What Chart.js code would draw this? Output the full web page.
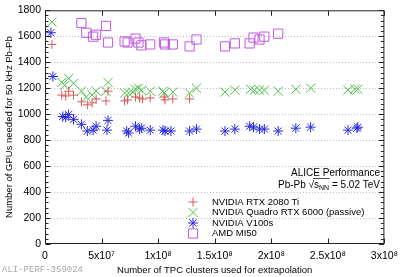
<!DOCTYPE html>
<html><head><meta charset="utf-8">
<script src="https://cdn.jsdelivr.net/npm/chart.js@4.4.1/dist/chart.umd.min.js"></script>
<style>html,body{margin:0;padding:0;background:#fff;}#wrap{width:404px;height:277px;}</style>
</head><body><div id="wrap"><canvas id="c" width="404" height="277"></canvas></div>
<script>
// ---- data ----
const xTickValues = [0, 5e7, 1e8, 1.5e8, 2e8, 2.5e8, 3e8];
const xTickLabels = ['0', '5x10⁷', '1x10⁸', '1.5x10⁸', '2x10⁸', '2.5x10⁸', '3x10⁸'];
const yTickValues = [0, 200, 400, 600, 800, 1000, 1200, 1400, 1600, 1800];
const yTickLabels = ['0', '200', '400', '600', '800', '1000', '1200', '1400', '1600', '1800'];
const seriesNames = ['NVIDIA RTX 2080 Ti', 'NVIDIA Quadro RTX 6000 (passive)', 'NVIDIA V100s', 'AMD MI50'];
const xAxisTitle = 'Number of TPC clusters used for extrapolation';
const yAxisTitle = 'Number of GPUs needed for 50 kHz Pb-Pb';

const rtxX = [0.61e7, 1.48e7, 1.83e7, 2.09e7, 2.52e7, 3.22e7, 3.74e7, 4.17e7, 4.52e7, 5.39e7, 5.57e7, 7.04e7, 7.30e7, 8.0e7, 8.35e7, 8.61e7, 9.30e7, 10.52e7, 10.61e7, 11.30e7, 12.78e7];
const rtxY = [1537, 1147, 1140, 1177, 1147, 1095, 1072, 1087, 1117, 1102, 1177, 1102, 1110, 1132, 1125, 1117, 1125, 1132, 1110, 1117, 1117];

const quadroX = [0.61e7, 1.48e7, 1.74e7, 2.09e7, 2.52e7, 3.22e7, 3.65e7, 4.17e7, 4.52e7, 5.39e7, 5.57e7, 7.04e7, 7.39e7, 7.74e7, 8.0e7, 8.26e7, 8.52e7, 9.30e7, 10.43e7, 10.52e7, 11.30e7, 12.78e7, 13.39e7, 15.91e7, 16.78e7, 18.17e7, 18.52e7, 18.96e7, 19.39e7, 20.61e7, 22.17e7, 23.48e7, 26.78e7, 27.39e7, 27.65e7];
const quadroY = [1710, 1245, 1222, 1275, 1237, 1177, 1132, 1147, 1177, 1177, 1245, 1162, 1162, 1170, 1192, 1200, 1185, 1177, 1177, 1162, 1170, 1162, 1200, 1170, 1185, 1192, 1185, 1185, 1185, 1177, 1192, 1200, 1185, 1192, 1192];

const v100X = [0.52e7, 0.70e7, 1.57e7, 1.83e7, 2.09e7, 2.52e7, 3.22e7, 3.74e7, 4.26e7, 4.52e7, 5.48e7, 5.57e7, 7.22e7, 7.39e7, 8.0e7, 8.35e7, 8.52e7, 9.30e7, 10.43e7, 10.61e7, 11.13e7, 12.78e7, 13.39e7, 15.91e7, 16.78e7, 18.09e7, 18.43e7, 18.96e7, 19.39e7, 20.61e7, 22.17e7, 23.48e7, 26.78e7, 27.57e7, 27.65e7];
const v100Y = [1627, 1290, 982, 975, 997, 960, 922, 870, 877, 907, 877, 952, 870, 855, 907, 885, 892, 877, 877, 870, 870, 870, 885, 870, 885, 907, 900, 885, 885, 870, 892, 900, 877, 892, 900];

const mi50X = [3.22e7, 3.65e7, 4.26e7, 4.52e7, 5.39e7, 5.57e7, 7.04e7, 7.30e7, 8.0e7, 8.26e7, 8.52e7, 9.30e7, 10.52e7, 10.61e7, 11.30e7, 12.78e7, 13.39e7, 15.91e7, 16.78e7, 18.09e7, 18.43e7, 18.96e7, 19.39e7, 20.61e7];
const mi50Y = [1702, 1627, 1597, 1612, 1680, 1552, 1560, 1552, 1582, 1552, 1530, 1537, 1552, 1537, 1537, 1522, 1575, 1522, 1545, 1545, 1590, 1575, 1597, 1620];

// ---- styles ----
const colors = ['#d85a5a', '#4cc24c', '#2b2bdc', '#c058e0'];
const pStyles = ['cross', 'crossRot', 'star', 'rect'];
const pRadius = [4.5, 6.5, 5, 6.5];

function pts(xs, ys) { return xs.map((x, i) => ({ x: x, y: ys[i] })); }
const seriesData = [pts(rtxX, rtxY), pts(quadroX, quadroY), pts(v100X, v100Y), pts(mi50X, mi50Y)];

const datasets = seriesData.map((d, i) => ({
  label: seriesNames[i], data: d, showLine: false,
  pointStyle: pStyles[i], pointRadius: pRadius[i], pointHoverRadius: pRadius[i],
  borderColor: colors[i], backgroundColor: 'rgba(0,0,0,0)', pointBorderWidth: 1,
  order: i
}));

const FONT = 'Liberation Sans, Arial, sans-serif';

function drawSymbol(ctx, style, x, y, r, color) {
  ctx.save(); ctx.strokeStyle = color; ctx.lineWidth = 1; ctx.beginPath();
  const d = r * Math.SQRT1_2;
  if (style === 'cross' || style === 'star') {
    ctx.moveTo(x - r, y); ctx.lineTo(x + r, y); ctx.moveTo(x, y - r); ctx.lineTo(x, y + r);
  }
  if (style === 'crossRot' || style === 'star') {
    ctx.moveTo(x - d, y - d); ctx.lineTo(x + d, y + d); ctx.moveTo(x - d, y + d); ctx.lineTo(x + d, y - d);
  }
  if (style === 'rect') { ctx.rect(x - d, y - d, 2 * d, 2 * d); }
  ctx.stroke(); ctx.restore();
}

const framePlugin = {
  id: 'frame',
  beforeDatasetsDraw(chart) {
    const { ctx, chartArea: a, scales: { y } } = chart;
    ctx.save();
    ctx.strokeStyle = '#bdbdbd'; ctx.lineWidth = 1; ctx.setLineDash([1, 2]);
    y.ticks.forEach(t => {
      if (t.value <= y.min || t.value >= y.max) return;
      const py = Math.round(y.getPixelForValue(t.value)) + 0.5;
      ctx.beginPath(); ctx.moveTo(a.left, py); ctx.lineTo(a.right, py); ctx.stroke();
    });
    ctx.restore();
  },
  afterDraw(chart) {
    const { ctx, chartArea: a, scales: { x, y } } = chart;
    ctx.save();
    ctx.strokeStyle = '#222'; ctx.lineWidth = 1;
    const L = a.left + 0.5, R = a.right - 0.5, T = a.top + 0.5, B = a.bottom - 0.5;
    ctx.strokeRect(L, T, R - L, B - T);
    ctx.beginPath();
    const yt = y.ticks.map(t => t.value);
    yt.forEach((v, i) => {
      const py = Math.round(y.getPixelForValue(v)) + 0.5;
      ctx.moveTo(L, py); ctx.lineTo(L + 5, py); ctx.moveTo(R, py); ctx.lineTo(R - 5, py);
      if (i < yt.length - 1) {
        const step = (yt[i + 1] - v) / 5;
        for (let k = 1; k < 5; k++) {
          const pm = Math.round(y.getPixelForValue(v + k * step)) + 0.5;
          ctx.moveTo(L, pm); ctx.lineTo(L + 3, pm); ctx.moveTo(R, pm); ctx.lineTo(R - 3, pm);
        }
      }
    });
    x.ticks.forEach(t => {
      const px = Math.round(x.getPixelForValue(t.value)) + 0.5;
      ctx.moveTo(px, B); ctx.lineTo(px, B - 5); ctx.moveTo(px, T); ctx.lineTo(px, T + 5);
    });
    ctx.stroke();

    // legend
    ctx.font = '9.5px ' + FONT; ctx.fillStyle = '#000'; ctx.textBaseline = 'middle'; ctx.textAlign = 'left';
    const rows = [202, 212.5, 223, 233.5];
    chart.data.datasets.forEach((ds, i) => {
      drawSymbol(ctx, ds.pointStyle, 193, rows[i], ds.pointRadius, ds.borderColor);
      ctx.fillText(ds.label, 212, rows[i]);
    });

    // ALICE label
    ctx.textAlign = 'right'; ctx.font = '10px ' + FONT;
    ctx.fillText('ALICE Performance', 380, 173);
    const rx = 380, ly = 185;
    const part3 = ' = 5.02 TeV';
    const w3 = ctx.measureText(part3).width;
    ctx.fillText(part3, rx, ly);
    ctx.font = '7px ' + FONT;
    const wNN = ctx.measureText('NN').width;
    ctx.fillText('NN', rx - w3, ly + 3);
    ctx.font = '10px ' + FONT;
    const wS = ctx.measureText('s').width;
    ctx.fillText('s', rx - w3 - wNN, ly);
    ctx.fillText('Pb-Pb √', rx - w3 - wNN - wS, ly);
    ctx.beginPath(); ctx.lineWidth = 0.8;
    const ox = rx - w3 - wNN - wS - 1;
    ctx.moveTo(ox, ly - 6.5); ctx.lineTo(rx - w3 + 0.5, ly - 6.5); ctx.stroke();

    // watermark
    ctx.textAlign = 'left'; ctx.fillStyle = '#a8a8a8'; ctx.font = '9px Liberation Mono, DejaVu Sans Mono, monospace';
    ctx.fillText('ALI-PERF-359024', 2, 270);
    ctx.restore();
  }
};

new Chart(document.getElementById('c'), {
  type: 'scatter',
  data: { datasets: datasets },
  plugins: [framePlugin],
  options: {
    responsive: false, animation: false, devicePixelRatio: 1,
    layout: { padding: { left: 0, right: 14, top: 4, bottom: 0 } },
    plugins: { legend: { display: false }, tooltip: { enabled: false } },
    scales: {
      x: {
        type: 'linear', min: 0, max: 3e8,
        afterBuildTicks: s => { s.ticks = xTickValues.map(v => ({ value: v })); },
        afterFit: s => { s.height = 33; },
        grid: { display: false, drawTicks: false },
        border: { display: false },
        ticks: { autoSkip: false, maxRotation: 0, padding: 6, color: '#000', font: { family: FONT, size: 10.5 },
          callback: v => xTickLabels[xTickValues.indexOf(v)] },
        title: { display: true, text: xAxisTitle, color: '#000', font: { family: FONT, size: 9.5 }, padding: { top: 0, bottom: 1 } }
      },
      y: {
        type: 'linear', min: 0, max: 1800,
        afterBuildTicks: s => { s.ticks = yTickValues.map(v => ({ value: v })); },
        afterFit: s => { s.width = 45; },
        grid: { display: false, drawTicks: false },
        border: { display: false },
        ticks: { autoSkip: false, padding: 4, color: '#000', font: { family: FONT, size: 10.5 },
          callback: v => yTickLabels[yTickValues.indexOf(v)] },
        title: { display: true, text: yAxisTitle, color: '#000', font: { family: FONT, size: 9.5 }, padding: { top: 4, bottom: 0 } }
      }
    }
  }
});
</script></body></html>
